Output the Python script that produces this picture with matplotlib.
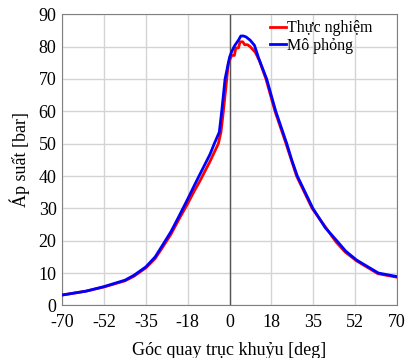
import numpy as np
import matplotlib
matplotlib.use("Agg")
from matplotlib import pyplot as plt

plt.rcParams['font.family'] = ['Liberation Serif', 'DejaVu Serif']

# crank angle [deg] and cylinder pressure [bar]
ang_sim = [-70, -60, -52.5, -43.7, -40, -35, -31.1, -27.7, -24.5, -21.4, -17.5, -14.8,
           -12.3, -8.2, -6.4, -4.3, -3.3, -2.6, -1.9, 0, 0.8, 1.6, 2.2, 3.7, 4.7, 5.8,
           6.9, 8.6, 10.4, 12.2, 15.5, 17.5, 19.3, 23.9, 26.0, 28.3, 34.8, 40, 44.8,
           48.5, 53.1, 62.2, 70]
p_sim = [3.2, 4.4, 5.8, 7.8, 9.3, 11.9, 15.0, 19.0, 22.8, 27.2, 32.9, 37.0,
         40.7, 46.7, 50.0, 53.6, 60.0, 65.0, 70.0, 76.8, 78.3, 79.6, 80.4, 82.0, 83.3, 83.3,
         83.0, 82.0, 80.4, 76.3, 70.0, 64.7, 60.0, 50.0, 44.9, 40.0, 30.0, 24.0, 20.0,
         16.8, 14.0, 10.0, 8.9]

ang_exp = [-70, -60, -52.5, -43.7, -40, -35, -31.1, -27.7, -24.5, -21.4, -17.5, -14.8,
           -12.3, -8.2, -6.8, -4.7, -3.6, -2.6, -1.6, -0.5, 0.9, 2.0, 2.6, 3.7, 4.4, 5.5,
           6.3, 7.5, 8.6, 10.7, 12.4, 15.2, 19.0, 23.6, 28.0, 34.5, 44.5, 48.3, 53.0, 62.0, 70]
p_exp = [3.2, 4.4, 5.7, 7.6, 9.0, 11.6, 14.5, 18.3, 22.0, 26.3, 31.5, 35.3,
         38.6, 44.5, 46.7, 50.0, 53.6, 60.0, 67.0, 75.0, 77.3, 77.3, 79.6, 79.6, 81.5, 81.5,
         80.6, 80.6, 80.0, 78.3, 75.8, 70.0, 60.0, 50.0, 40.0, 30.0, 19.6, 16.5, 13.8, 9.8, 8.7]

xticks = [-70, -52.5, -35, -17.5, 0, 17.5, 35, 52.5, 70]
xlabels = ['-70', '-52', '-35', '-18', '0', '18', '35', '52', '70']

fig = plt.figure(figsize=(4.06, 3.58), dpi=100)
ax = fig.add_axes([0.153, 0.147, 0.825, 0.813])

ax.plot(ang_exp, p_exp, color='#ff0000', lw=2.0, label='Thực nghiệm', zorder=3)
ax.plot(ang_sim, p_sim, color='#0000ff', lw=2.0, label='Mô phỏng', zorder=4)
ax.axvline(0, color='#555555', lw=1.0, zorder=2)

ax.set_xlim(-70, 70)
ax.set_ylim(0, 90)
ax.set_xticks(xticks)
ax.set_xticklabels(xlabels)
ax.set_yticks(np.arange(0, 91, 10))
ax.grid(True, color='#d4d4d4', lw=1.0)
ax.tick_params(length=0, labelsize=13)
ax.tick_params(axis='x', pad=6)
ax.tick_params(axis='y', pad=4)
for s in ax.spines.values():
    s.set_color('#808080')

ax.set_xlabel('Góc quay trục khuỷu [deg]', fontsize=13, labelpad=8)
ax.set_ylabel('Áp suất [bar]', fontsize=13, labelpad=6)

ax.legend(loc='upper left', bbox_to_anchor=(0.62, 0.98), frameon=False, fontsize=11.5,
          handlelength=1.0, handletextpad=0.1, labelspacing=0.1,
          borderpad=0, borderaxespad=0)

fig.savefig('out.png', dpi=100)
